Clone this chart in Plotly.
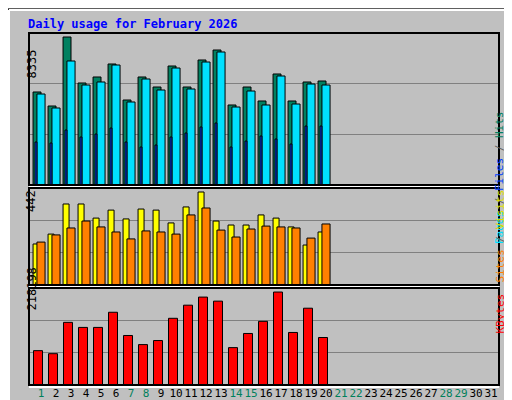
import plotly.graph_objects as go

days = list(range(1, 32))
hits = [5238, 4449, 8335, 5745, 6083, 6815, 4787, 6083, 5519, 6702, 5519, 7040, 7603, 4506, 5519, 4731, 6252, 4731, 5801, 5857]
files = [5125, 4337, 6984, 5632, 5801, 6758, 4675, 5970, 5350, 6589, 5407, 6927, 7491, 4393, 5294, 4506, 6139, 4562, 5688, 5632]
pages = [2422, 2365, 3098, 2703, 2872, 3210, 2422, 2140, 2253, 2703, 2929, 3267, 3492, 2140, 2478, 2760, 2591, 2309, 3323, 3323]
visits = [195, 242, 385, 385, 318, 356, 314, 361, 356, 295, 371, 442, 304, 285, 285, 333, 318, 276, 190, 252]
sites = [204, 238, 271, 304, 276, 252, 219, 257, 252, 242, 333, 366, 261, 228, 266, 280, 276, 271, 223, 290]
kbytes = [80638, 73523, 147045, 135187, 135187, 170762, 116213, 94868, 104355, 156532, 187364, 206338,
          196851, 87753, 120957, 149417, 218198, 123328, 180249, 111470]
weekend = [1, 7, 8, 14, 15, 21, 22, 28, 29]

d = days[:len(hits)]
mono = "DejaVu Sans Mono"
fig = go.Figure()

def bars(y, color, left, width, ax):
    fig.add_trace(go.Bar(x=d, y=y, offset=left, width=width, marker_color=color,
                         marker_line=dict(color="black", width=1),
                         xaxis="x" + ax, yaxis="y" + ax, showlegend=False, hoverinfo="skip"))

bars(hits, "#008060", -0.53, 0.53, "")
bars(files, "#00e0ff", -0.27, 0.54, "")
bars(pages, "#0040ff", -0.4, 0.13, "")
bars(visits, "#ffff00", -0.53, 0.4, "2")
bars(sites, "#ff8000", -0.27, 0.54, "2")
bars(kbytes, "#ff0000", -0.5, 0.6, "3")

def yfrac(px):
    return (377 - px) / 352

maxes = [8335 * 152 / 148, 442 * 97 / 93, 218198 * 96 / 92]
domains = [[yfrac(177), 1], [yfrac(277), yfrac(180)], [0, yfrac(280)]]
xr = [0.2, 0.2 + 470 / 15]
layout = dict(
    width=512, height=400, margin=dict(l=21, r=21, t=25, b=23, autoexpand=False),
    paper_bgcolor="#c0c0c0", plot_bgcolor="#c0c0c0", barmode="overlay",
    title=dict(text="<b>Daily usage for February 2026</b>", x=20 / 512, y=1 - 16 / 400,
               xanchor="left", yanchor="middle", font=dict(family=mono, size=12, color="#0000ff")),
)
for i, ax in enumerate(["", "2", "3"]):
    layout["xaxis" + ax] = dict(range=xr, anchor="y" + ax, showgrid=False, zeroline=False,
                                showticklabels=(ax == "3"), ticks="", fixedrange=True,
                                automargin=False, tickangle=0,
                                tickvals=days if ax == "3" else [],
                                ticktext=[f"<span style='color:{'#00805c' if k in weekend else 'black'}'>{k}</span>" for k in days] if ax == "3" else None,
                                tickfont=dict(family=mono, size=11, color="black"))
    layout["yaxis" + ax] = dict(range=[0, maxes[i]], domain=domains[i], anchor="x" + ax,
                                tickvals=[maxes[i] / 3, 2 * maxes[i] / 3], showticklabels=False,
                                automargin=False,
                                gridcolor="#808080", gridwidth=1, zeroline=False, ticks="")
fig.update_layout(**layout)

shapes = [
    dict(type="rect", xref="paper", yref="paper", x0=-21 / 470, x1=1 + 20 / 470, y0=-22 / 352, y1=1 + 24 / 352,
         line=dict(color="black", width=1)),
    dict(type="line", xref="paper", yref="paper", x0=-20 / 470, x1=1 + 19 / 470, y0=1 + 23 / 352, y1=1 + 23 / 352,
         line=dict(color="white", width=2)),
    dict(type="line", xref="paper", yref="paper", x0=-20 / 470, x1=-20 / 470, y0=-20 / 352, y1=1 + 23 / 352,
         line=dict(color="white", width=2)),
    dict(type="line", xref="paper", yref="paper", x0=-20 / 470, x1=1 + 19 / 470, y0=-20 / 352, y1=-20 / 352,
         line=dict(color="#808080", width=3)),
    dict(type="line", xref="paper", yref="paper", x0=1 + 19 / 470, x1=1 + 19 / 470, y0=-20 / 352, y1=1 + 23 / 352,
         line=dict(color="#808080", width=3)),
]
for lo, hi in domains:
    shapes.append(dict(type="rect", xref="paper", yref="paper", x0=0, x1=1, y0=lo, y1=hi,
                       line=dict(color="black", width=2)))
    shapes.append(dict(type="line", xref="paper", yref="paper", x0=0, x1=1, y0=lo - 2 / 352, y1=lo - 2 / 352,
                       line=dict(color="white", width=2)))
fig.update_layout(shapes=shapes)

anns = []
for label, py in [("8335", 40), ("442", 193), ("218198", 305)]:
    anns.append(dict(text=label, xref="paper", yref="paper", x=-7 / 470, y=yfrac(py), showarrow=False,
                     textangle=-90, font=dict(family=mono, size=12, color="black")))
sl = "<span style='color:#606060'> / </span>"
right = [
    ("<span style='color:#00e0ff'>Pages</span>" + sl + "<span style='color:#0040ff'>Files</span>" + sl +
     "<span style='color:#008060'>Hits</span>", 101),
    ("<span style='color:#ff8000'>Sites</span>" + sl + "<span style='color:#e0e000'>Visits</span>", 228),
    ("<span style='color:#ff0000'>KBytes</span>", 328),
]
for txt, py in right:
    anns.append(dict(text=txt, xref="paper", yref="paper", x=1 + 9 / 470, y=yfrac(py), showarrow=False,
                     textangle=-90, font=dict(family=mono, size=11)))
fig.update_layout(annotations=anns)

fig.write_html("out.html")
